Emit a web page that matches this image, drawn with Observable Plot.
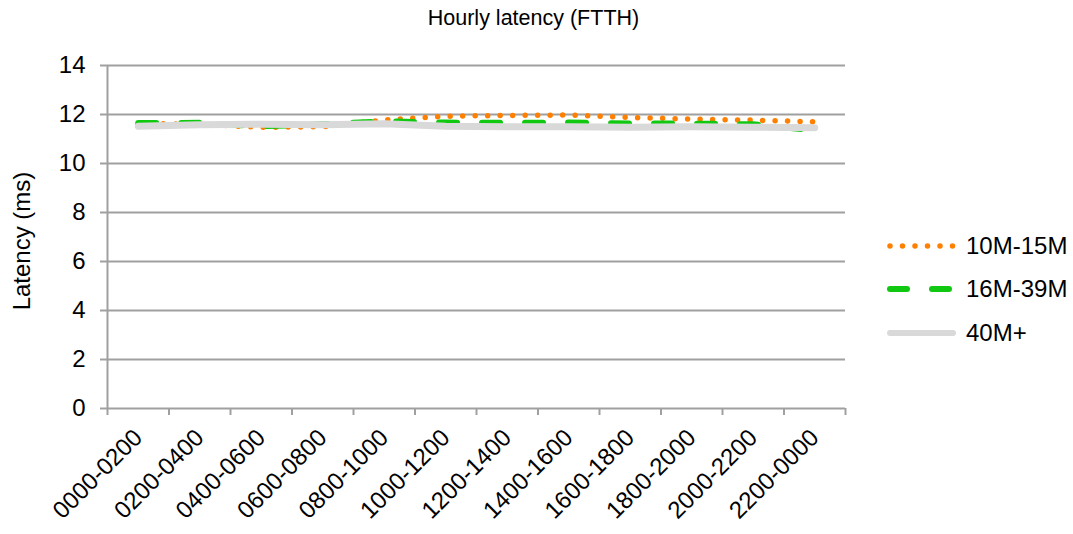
<!DOCTYPE html>
<html>
<head>
<meta charset="utf-8">
<script src="https://cdn.jsdelivr.net/npm/d3@7"></script>
<script src="https://cdn.jsdelivr.net/npm/@observablehq/plot@0.6"></script>
<style>
  html, body { margin: 0; padding: 0; background: #fff; }
  #wrap { position: relative; width: 1073px; height: 534px; font-family: "Liberation Sans", Arial, sans-serif; color: #000; }
  #wrap svg.plot { position: absolute; left: 0; top: 0; }
  #title { position: absolute; left: 0; width: 1067px; top: 6px; text-align: center; font-size: 21.5px; }
  #ylabel { position: absolute; left: 22px; top: 241px; transform: translate(-50%, -50%) rotate(-90deg); font-size: 24px; white-space: nowrap; }
  #legend { position: absolute; left: 886px; top: 224px; font-size: 24px; }
  .row { display: flex; align-items: center; height: 43.5px; }
  .row svg { margin-right: 10px; }
</style>
</head>
<body>
<div id="wrap">
  <div id="title">Hourly latency (FTTH)</div>
  <div id="ylabel">Latency (ms)</div>
  <div id="legend"></div>
</div>
<script>
const categories = ["0000-0200","0200-0400","0400-0600","0600-0800","0800-1000","1000-1200","1200-1400","1400-1600","1600-1800","1800-2000","2000-2200","2200-0000"];
const s10_15 = [11.63, 11.60, 11.48, 11.50, 11.78, 11.93, 11.96, 11.98, 11.88, 11.81, 11.77, 11.70];
const s16_39 = [11.65, 11.66, 11.52, 11.60, 11.72, 11.67, 11.66, 11.67, 11.63, 11.63, 11.60, 11.35];
const s40 = [11.52, 11.58, 11.60, 11.58, 11.62, 11.52, 11.50, 11.50, 11.48, 11.50, 11.48, 11.46];
const yTicks = [0, 2, 4, 6, 8, 10, 12, 14];
const seriesNames = ["10M-15M", "16M-39M", "40M+"];

const styles = {
  "10M-15M": {stroke: "#ff8000", strokeWidth: 5.5, strokeDasharray: "0 12.5", strokeLinecap: "round"},
  "16M-39M": {stroke: "#10c810", strokeWidth: 6, strokeDasharray: "18 25", strokeLinecap: "round"},
  "40M+": {stroke: "#d9d9d9", strokeWidth: 7, strokeDasharray: null, strokeLinecap: "round"}
};

const table = (vals) => categories.map((c, i) => ({cat: c, idx: i + 0.5, v: vals[i]}));
const dA = table(s10_15), dB = table(s16_39), dC = table(s40);
const bounds = d3.range(categories.length + 1);

const grid = "#a0a0a0";
const chart = Plot.plot({
  width: 1073,
  height: 534,
  marginLeft: 107,
  marginRight: 228,
  marginTop: 65,
  marginBottom: 126,
  style: {fontFamily: "'Liberation Sans', Arial, sans-serif", fontSize: "24px", color: "#000", background: "transparent", overflow: "visible"},
  x: {domain: [0, categories.length], axis: null},
  y: {domain: [0, 14], axis: null},
  marks: [
    Plot.gridY(yTicks, {stroke: grid, strokeOpacity: 1, strokeWidth: 2}),
    Plot.ruleX([0], {stroke: grid, strokeWidth: 2}),
    Plot.axisY({ticks: yTicks, tickSize: 7, tickPadding: 15, stroke: grid, strokeWidth: 2, strokeOpacity: 1, fontSize: 24, label: null, fill: "#000"}),
    Plot.axisX({ticks: bounds, tickSize: 7, tickFormat: () => "", stroke: grid, strokeWidth: 2, strokeOpacity: 1, label: null}),
    Plot.text(dA, {x: "idx", text: "cat", frameAnchor: "bottom", dy: 25, rotate: -45, textAnchor: "end", lineAnchor: "middle", fontSize: 24, fill: "#000"}),
    Plot.line(dA, {x: "idx", y: "v", ...styles["10M-15M"]}),
    Plot.line(dB, {x: "idx", y: "v", ...styles["16M-39M"]}),
    Plot.line(dC, {x: "idx", y: "v", ...styles["40M+"]})
  ]
});
chart.classList.add("plot");
document.getElementById("wrap").prepend(chart);

const legend = document.getElementById("legend");
for (const name of seriesNames) {
  const st = styles[name];
  const row = document.createElement("div");
  row.className = "row";
  const ns = "http://www.w3.org/2000/svg";
  const svg = document.createElementNS(ns, "svg");
  svg.setAttribute("width", 70);
  svg.setAttribute("height", 10);
  const ln = document.createElementNS(ns, "line");
  ln.setAttribute("x1", 4); ln.setAttribute("x2", 67);
  ln.setAttribute("y1", 5); ln.setAttribute("y2", 5);
  ln.setAttribute("stroke", st.stroke);
  ln.setAttribute("stroke-width", name === "40M+" ? 6 : st.strokeWidth);
  ln.setAttribute("stroke-linecap", "round");
  if (st.strokeDasharray) ln.setAttribute("stroke-dasharray", name === "16M-39M" ? "17 25" : st.strokeDasharray);
  svg.appendChild(ln);
  const lab = document.createElement("span");
  lab.textContent = name;
  row.appendChild(svg);
  row.appendChild(lab);
  legend.appendChild(row);
}
</script>
</body>
</html>
